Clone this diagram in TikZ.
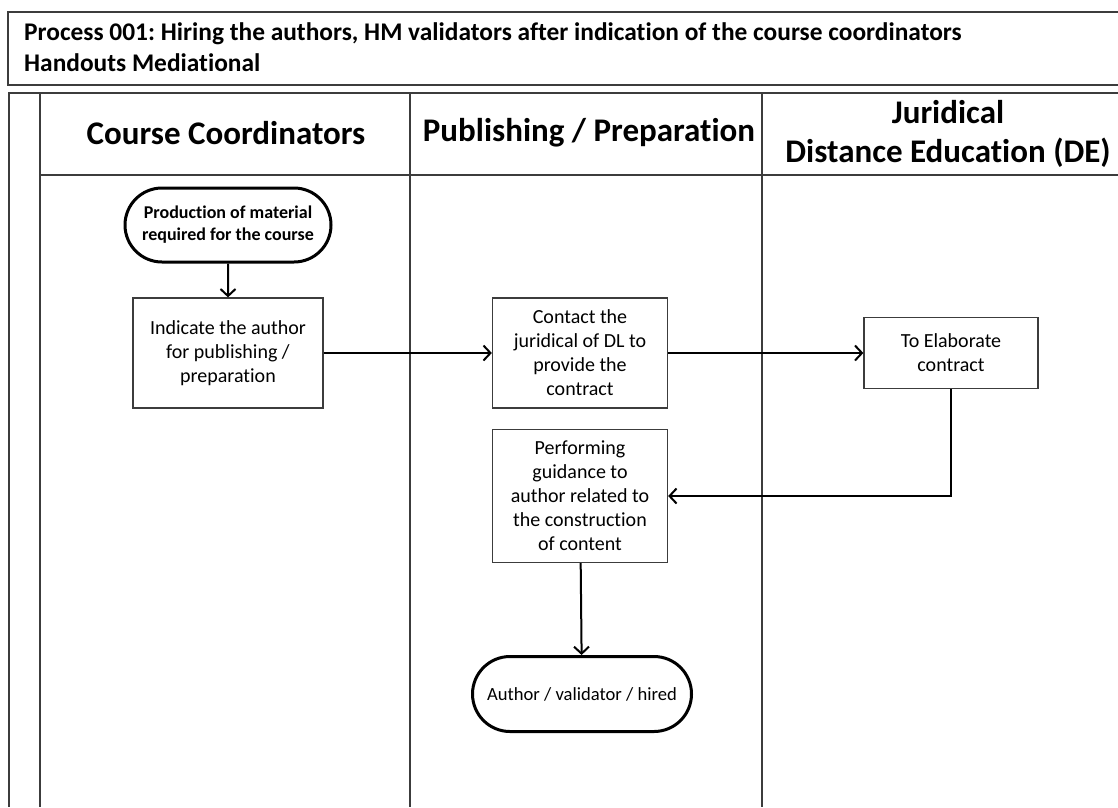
\documentclass[tikz,border=0pt]{standalone}
\usepackage{fontspec}
\setmainfont{Carlito}[Ligatures=NoCommon]
\frenchspacing
\usetikzlibrary{positioning,arrows.meta,shapes.misc}
\definecolor{laneline}{RGB}{60,60,60}

\tikzset{
  proc/.style={draw=laneline,line width=1.3pt,align=center,inner sep=2pt,
    font=\fontsize{20}{24}\selectfont},
  term/.style={rounded rectangle,draw,line width=3pt,align=center,inner sep=2pt},
  lanehead/.style={align=center,font=\bfseries\fontsize{33}{39}\selectfont},
  flow/.style={line width=2pt,-{Straight Barb[length=7pt,width=15pt,line width=2pt]}}
}

\begin{document}
\begin{tikzpicture}[x=1pt,y=-1pt]
\useasboundingbox (0,0) rectangle (1118,807);
% title block
\draw[laneline,line width=1.3pt] (1118,12) -| (8,85) -- (1118,85);
\node[anchor=west,align=left,inner sep=0,font=\bfseries\fontsize{25.4}{31}\selectfont] (title) at (24,47)
  {Process 001: Hiring the authors, HM validators after indication of the course coordinators\\
   Handouts Mediational};
% swimlanes
\begin{scope}[laneline,line width=1.3pt]
\draw (1118,93) -| (9,807);
\draw (40,93) -- (40,807);
\draw (40,175) -- (1118,175);
\foreach \x in {410,762} \draw (\x,93) -- (\x,807);
\end{scope}
\node[lanehead] (hcc) at (226,133) {Course Coordinators};
\node[lanehead] (hpub) at (589,133) {Publishing / Preparation};
\node[lanehead] (hjur) at (948,134) {Juridical\\Distance Education (DE)};
% flow
\node[term,minimum width=210pt,minimum height=74pt,font=\bfseries\fontsize{18}{22}\selectfont] (start) at (228,225)
  {Production of material\\required for the course};
\node[proc,minimum width=190pt,minimum height=110pt] (indicate) at (228,353)
  {Indicate the author\\for publishing /\\preparation};
\node[proc,minimum width=175pt,minimum height=110pt] (contact) at (580,353)
  {Contact the\\juridical of DL to\\provide the\\contract};
\node[proc,minimum width=174pt,minimum height=71pt] (elaborate) at (951,353)
  {To Elaborate\\contract};
\node[proc,minimum width=175pt,minimum height=133pt] (guidance) at (580,496)
  {Performing\\guidance to\\author related to\\the construction\\of content};
\node[term,minimum width=223pt,minimum height=75pt,font=\fontsize{18.6}{22}\selectfont] (hired) at (582,694)
  {Author / validator / hired};
\draw[flow] (start) -- (indicate);
\draw[flow] (indicate) -- (contact);
\draw[flow] (contact) -- (elaborate);
\draw[flow] (elaborate.south) |- (guidance.east);
\draw[flow] (guidance) -- (hired);
\end{tikzpicture}
\end{document}
